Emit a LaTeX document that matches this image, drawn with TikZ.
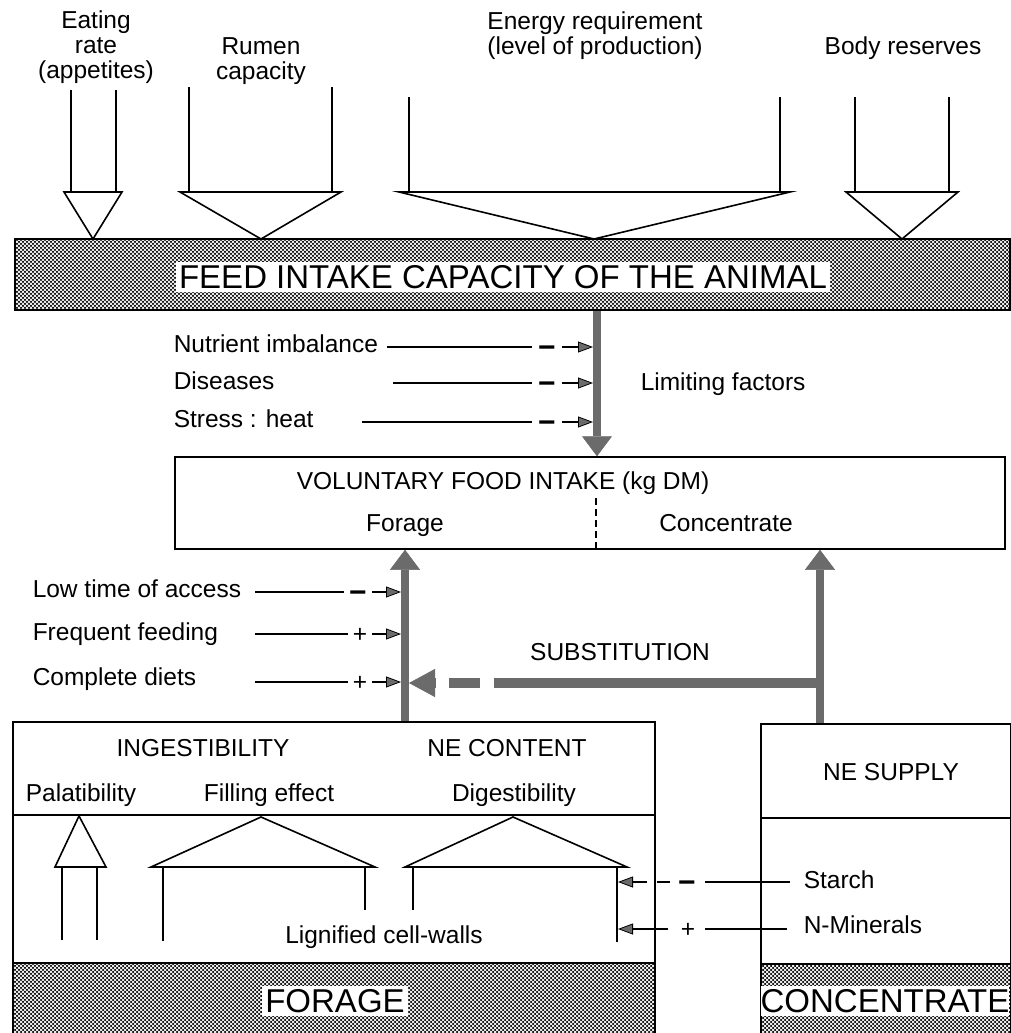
\documentclass[tikz,border=0pt]{standalone}
\usepackage{fontspec}
\setmainfont{Liberation Sans}
\usetikzlibrary{arrows.meta,patterns.meta}
\definecolor{shaftgrey}{gray}{0.42}
\tikzdeclarepattern{name=dotgrid, type=uncolored, bottom left={(-.3pt,-.3pt)}, top right={(4.3pt,4.3pt)}, tile size={(4pt,4pt)}, code={\fill (1pt,1pt) circle (1.25pt); \fill (3pt,3pt) circle (1.25pt);}}
\begin{document}
\begin{tikzpicture}[x=1pt, y=-1pt, line width=1.5pt,
	txt/.style={font=\fontsize{24.5}{25}\selectfont, inner sep=0pt, align=center},
	word/.style={txt, text height=17.5pt, text depth=0pt},
	bigtxt/.style={font=\fontsize{33}{33}\selectfont, fill=white, inner sep=3pt},
	outline/.style={line width=1.6pt, line join=miter},
	heavy/.style={draw=shaftgrey, line width=8pt, -{Triangle[length=20pt,width=30pt,line width=0.5pt,fill=shaftgrey]}},
	factor/.style={line width=1.3pt, -{Triangle[length=15pt,width=11pt,line width=0.8pt,fill=shaftgrey]}},
	minus/.style={font=\bfseries\fontsize{30}{30}\selectfont, fill=white, anchor=base, inner ysep=1pt, inner xsep=6pt},
	plus/.style={font=\fontsize{24.5}{25}\selectfont, fill=white, anchor=base, inner ysep=1pt, inner xsep=5pt},
	box/.style={draw, anchor=north west, inner sep=0pt}]
	\path [use as bounding box, fill=white] (0,0) rectangle (1011,1033);

	\node (eat) [txt] at (96,47) {Eating\\rate\\(appetites)};
	\node (rumen) [txt] at (261,61) {Rumen\\capacity};
	\node (energy) [txt] at (595,36) {Energy requirement\\(level of production)};
	\node (body) [word] at (903,46) {Body reserves};

	\node (feed) [draw, pattern=dotgrid, minimum width=995pt, minimum height=71pt, inner sep=0pt] at (512.5,274.5) {};
	\node (feedlbl) [bigtxt, text height=23.6pt, text depth=0pt] at (503,277) {FEED INTAKE CAPACITY OF THE ANIMAL};

	\draw [outline] (71,90) -- (71,192) (116,90) -- (116,192);
	\draw [outline] (64,192) -- (122,192) -- (93,239) -- cycle;
	\draw [outline] (189,87) -- (189,192) (332,87) -- (332,192);
	\draw [outline] (180,192) -- (341,192) -- (261,239) -- cycle;
	\draw [outline] (409,97) -- (409,192) (780,97) -- (780,192);
	\draw [outline] (399,192) -- (790,192) -- (594,239) -- cycle;
	\draw [outline] (855,97) -- (855,192) (949,97) -- (949,192);
	\draw [outline] (846,192) -- (958,192) -- (902,239) -- cycle;

	\node (vfi) [draw, minimum width=830pt, minimum height=92pt] at (590,503) {};
	\node (vfilbl) [word] at (503,481) {VOLUNTARY FOOD INTAKE (kg DM)};
	\node (vfor) [word] at (405,523) {Forage};
	\node (vcon) [word] at (726,523) {Concentrate};
	\draw [dash pattern=on 7pt off 4pt] (596,498) -- (596,549);

	\coordinate (split) at (597,0);
	\draw [heavy] (feed.south -| split) -- (vfi.north -| split);

	\node (nutr) [word, anchor=west] at (173,344) {Nutrient imbalance};
	\node (dis) [word, anchor=west] at (173,381) {Diseases};
	\node (str) [word, anchor=west] at (173,419) {Stress : heat};
	\node (limit) [word, anchor=west] at (640,382) {Limiting factors};
	\coordinate (nutr-s) at (387,347);
	\coordinate (nutr-t) at (593,347);
	\coordinate (dis-s) at (393,383);
	\coordinate (dis-t) at (593,383);
	\coordinate (str-s) at (362,422);
	\coordinate (str-t) at (593,422);
	\draw [factor] (nutr-s) -- (nutr-t);
	\draw [factor] (dis-s) -- (dis-t);
	\draw [factor] (str-s) -- (str-t);
	\node [minus] at (547,357) {−};
	\node [minus] at (547,393) {−};
	\node [minus] at (547,432) {−};

	\node (fortop) [box, minimum width=642pt, minimum height=93pt] at (12,721) {};
	\node (formid) [box, minimum width=642pt, minimum height=148pt] at (12,814) {};
	\node (forbase) [box, pattern=dotgrid, minimum width=642pt, minimum height=75pt] at (12,962) {};
	\node (forlbl) [bigtxt] at (335,1001) {FORAGE};
	\node (contop) [box, minimum width=250pt, minimum height=94pt] at (760,723) {};
	\node (conmid) [box, minimum width=250pt, minimum height=146pt] at (760,817) {};
	\node (conbase) [box, pattern=dotgrid, minimum width=250pt, minimum height=75pt] at (760,963) {};
	\node (conlbl) [bigtxt, inner xsep=0pt] at (885,1001) {CONCENTRATE};

	\node (lowt) [word, anchor=west] at (32,589) {Low time of access};
	\node (freq) [word, anchor=west] at (32,632) {Frequent feeding};
	\node (compl) [word, anchor=west] at (32,677) {Complete diets};
	\coordinate (lx) at (255,0);
	\coordinate (lowt-t) at (401,592);
	\coordinate (freq-t) at (401,634);
	\coordinate (compl-t) at (401,682);
	\draw [factor] (lowt-t -| lx) -- (lowt-t);
	\draw [factor] (freq-t -| lx) -- (freq-t);
	\draw [factor] (compl-t -| lx) -- (compl-t);
	\node [minus, inner xsep=5pt] at (358,602) {−};
	\node [plus] at (360,642) {+};
	\node [plus] at (360,690) {+};

	\node (subst) [word] at (620,652) {SUBSTITUTION};
	\coordinate (cshaft) at (820,0);
	\coordinate (sub-c) at (820,683);
	\coordinate (sub-f) at (409,683);
	\draw [draw=shaftgrey, line width=10pt, dash pattern=on 326pt off 14pt on 31pt off 13pt on 40pt, -{Triangle[length=26pt,width=28pt,line width=0.5pt,fill=shaftgrey]}] (sub-c) -- (sub-f);
	\draw [heavy] (fortop.north -| vfor) -- (vfi.south -| vfor);
	\draw [heavy] (contop.north -| cshaft) -- (vfi.south -| cshaft);

	\node (ingest) [word] at (203,748) {INGESTIBILITY};
	\node (necont) [word] at (507,748) {NE CONTENT};
	\node (palat) [word] at (81,793) {Palatibility};
	\node (fill) [word] at (269,793) {Filling effect};
	\node (digest) [word] at (514,793) {Digestibility};
	\node (lignin) [word] at (384,935) {Lignified cell-walls};
	\node (nesup) [word] at (891,772) {NE SUPPLY};

	\draw [outline] (62,940) -- (62,867) (97,940) -- (97,867);
	\draw [outline] (55,867) -- (106,867) -- (79,816) -- cycle;
	\draw [outline] (151,867) -- (375,867) -- (261,817) -- cycle;
	\draw [outline] (163,867) -- (163,941) (365,867) -- (365,910);
	\draw [outline] (405,867) -- (627,867) -- (513,817) -- cycle;
	\draw [outline] (413,867) -- (413,910) (617,867) -- (617,942);

	\node (starch) [word, anchor=west] at (803,880) {Starch};
	\node (nmin) [word, anchor=west] at (803,925) {N-Minerals};
	\coordinate (st-s) at (790,882);
	\coordinate (st-t) at (618,882);
	\coordinate (nm-s) at (787,929);
	\coordinate (nm-t) at (618,929);
	\draw [factor, dash pattern=on 85pt off 35pt on 13pt off 10pt on 60pt] (st-s) -- (st-t);
	\draw [factor, dash pattern=on 82pt off 37pt on 70pt] (nm-s) -- (nm-t);
	\node [minus, inner xsep=2pt] at (687,892) {−};
	\node [plus, inner xsep=2pt] at (688,937) {+};
\end{tikzpicture}
\end{document}
